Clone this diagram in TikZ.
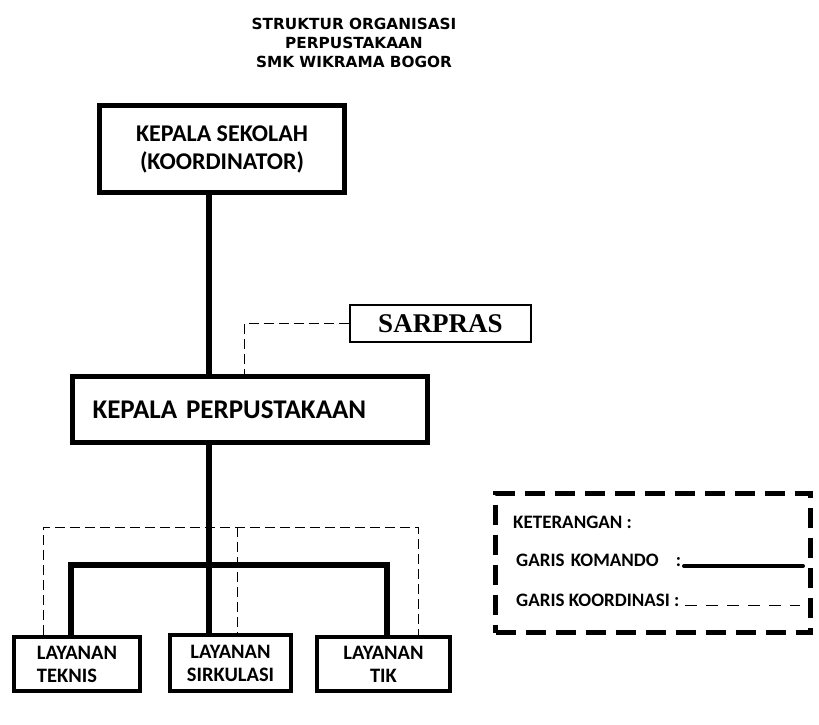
\documentclass[tikz,border=0pt]{standalone}
\usepackage{fontspec}
\setmainfont{Carlito}
\newfontfamily\titlefont{DejaVu Sans}
\newfontfamily\sarprasfont{Liberation Serif}
\usetikzlibrary{positioning}

\begin{document}
\begin{tikzpicture}[
  x=1pt,y=-1pt,
  every node/.style={font=\bfseries},
  box/.style={draw,line width=5pt,inner sep=0pt,align=center},
  lay/.style={draw,line width=4pt,inner sep=0pt,align=center,
              font=\bfseries\fontsize{20.5}{23}\selectfont},
  leg/.style={anchor=west,inner sep=0pt,font=\bfseries\fontsize{19}{22}\selectfont},
  cmd/.style={line width=5.5pt},
  crd/.style={line width=1pt,dash pattern=on 10pt off 5pt}]

  % --- canvas
  \path[use as bounding box,fill=white] (0,0) rectangle (819,725);

  % --- title
  \node[font=\titlefont\bfseries\fontsize{15.3}{19}\selectfont,align=center]
    (title) at (354,43) {STRUKTUR ORGANISASI\\PERPUSTAKAAN\\SMK WIKRAMA BOGOR};

  % --- boxes
  \node[box,minimum width=245,minimum height=87,
        font=\bfseries\fontsize{24}{28}\selectfont]
    (ks) at (222,149) {KEPALA SEKOLAH\\(KOORDINATOR)};
  \node[box,minimum width=355,minimum height=66,text width=315,inner xsep=20pt,
        align=left,font=\bfseries\fontsize{27}{30}\selectfont]
    (kp) at (250,409.5) {KEPALA PERPUSTAKAAN};
  \node[draw,line width=2.5pt,minimum width=181,minimum height=37,inner sep=0pt,
        font=\sarprasfont\bfseries\fontsize{27}{28}\selectfont]
    (sarpras) at (440.5,323.5) {SARPRAS};
  \node[lay,align=left,minimum width=126,minimum height=54] (teknis) at (77,664) {LAYANAN\\TEKNIS};
  \node[lay,minimum width=121,minimum height=56] (sirkulasi) at (230.5,663) {LAYANAN\\SIRKULASI};
  \node[lay,minimum width=133,minimum height=54] (tik)       at (383.5,664) {LAYANAN\\TIK};

  % --- helper points for the lines
  \coordinate (spine) at (209,0);
  \coordinate (dl) at (71,565);
  \coordinate (dr) at (387,565);
  \coordinate (sj) at (244,0);
  \coordinate (cl) at (43,527);
  \coordinate (cm) at (237,527);
  \coordinate (cr) at (418,527);

  % --- garis komando
  \draw[cmd] (ks.south -| spine) -- (kp.north -| spine);
  \draw[cmd] (kp.south -| spine) -- (sirkulasi.north -| spine);
  \draw[cmd] (teknis.north -| dl) |- (dr) -- (tik.north -| dr);

  % --- garis koordinasi
  \draw[crd] (sarpras.west) -| (kp.north -| sj);
  \draw[crd] (teknis.north -| cl) |- (cr) -- (tik.north -| cr);
  \draw[crd] (cm) -- (sirkulasi.north -| cm);

  % --- keterangan
  \node[draw,line width=5pt,dash pattern=on 20pt off 10pt,
        minimum width=315,minimum height=139] (legend) at (653,563) {};
  \node[leg] (ket) at (513,522) {KETERANGAN :};
  \node[leg,text width=165] (kom) at (516,560) {GARIS KOMANDO\hfill:};
  \node[leg] (koo) at (516,600) {GARIS KOORDINASI :};
  \coordinate (k1) at (684,566);
  \coordinate (k2) at (803,566);
  \coordinate (c1) at (685,605);
  \coordinate (c2) at (800,605);
  \draw[line width=4pt,line cap=round] (k1) -- (k2);
  \draw[line width=1pt,dash pattern=on 12pt off 9pt] (c1) -- (c2);
\end{tikzpicture}
\end{document}
